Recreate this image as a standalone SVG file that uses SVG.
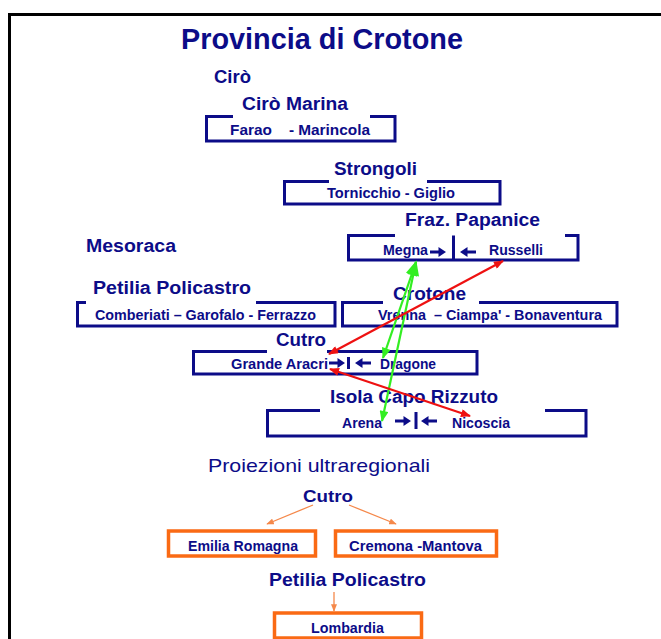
<svg xmlns="http://www.w3.org/2000/svg" width="661" height="639" viewBox="0 0 661 639">
<defs>
<style>
.t{font-family:"Liberation Sans",Arial,sans-serif;font-weight:bold;fill:#0c0c88}
.lab{font-size:18px}
.in{font-size:14px}
.box{fill:none;stroke:#0c0c88;stroke-width:3}
.obox{fill:none;stroke:#fa6a14;stroke-width:3.5}
.g{stroke:#33ee22;stroke-width:2.2;fill:none}
.r{stroke:#ee1111;stroke-width:2.2;fill:none}
.o{stroke:#f5884a;stroke-width:1.3;fill:none}
</style>
<marker id="mg" viewBox="0 0 10 8" refX="9" refY="4" markerWidth="12" markerHeight="9" markerUnits="userSpaceOnUse" orient="auto-start-reverse"><path d="M0,0 L10,4 L0,8 Z" fill="#33ee22"/></marker>
<marker id="mgb" viewBox="0 0 10 8" refX="9" refY="4" markerWidth="16" markerHeight="12" markerUnits="userSpaceOnUse" orient="auto-start-reverse"><path d="M0,0 L10,4 L0,8 Z" fill="#33ee22"/></marker>
<marker id="mr" viewBox="0 0 10 8" refX="9" refY="4" markerWidth="11" markerHeight="8" markerUnits="userSpaceOnUse" orient="auto-start-reverse"><path d="M0,0 L10,4 L0,8 Z" fill="#ee1111"/></marker>
<marker id="mo" viewBox="0 0 10 8" refX="9" refY="4" markerWidth="8" markerHeight="6" markerUnits="userSpaceOnUse" orient="auto"><path d="M0,0 L10,4 L0,8 Z" fill="#f5884a"/></marker>
<path id="ar" d="M-8,-1.6 H0.5 V-5 L8,0 L0.5,5 V1.6 H-8 Z" fill="#0c0c88"/>
</defs>

<path d="M9.5,639 V14.5 H661" fill="none" stroke="#000" stroke-width="3"/>

<text class="t" x="181" y="49" font-size="29" textLength="282" lengthAdjust="spacingAndGlyphs">Provincia di Crotone</text>

<g id="ciro"><text class="t lab" x="214" y="83" textLength="37" lengthAdjust="spacingAndGlyphs">Cirò</text></g>

<g id="ciro-marina">
<text class="t lab" x="242" y="110" textLength="106" lengthAdjust="spacingAndGlyphs">Cirò Marina</text>
<path class="box" d="M233,116.5 H206.5 V141 H395 V116.5 H370"/>
<text class="t in" x="230" y="135" textLength="140" lengthAdjust="spacingAndGlyphs" xml:space="preserve">Farao    - Marincola</text>
</g>

<g id="strongoli">
<text class="t lab" x="334" y="175" textLength="83" lengthAdjust="spacingAndGlyphs">Strongoli</text>
<path class="box" d="M329,181.5 H284.5 V204 H500 V181.5 H427"/>
<text class="t in" x="327" y="198" textLength="128" lengthAdjust="spacingAndGlyphs">Tornicchio - Giglio</text>
</g>

<g id="papanice">
<text class="t lab" x="405" y="226" textLength="135" lengthAdjust="spacingAndGlyphs">Fraz. Papanice</text>
<path class="box" d="M395,235.5 H348.5 V260 H578 V235.5 H565 M453.5,235.5 V260"/>
<text class="t in" x="383" y="255" textLength="45" lengthAdjust="spacingAndGlyphs">Megna</text>
<use href="#ar" transform="translate(438,252)"/>
<use href="#ar" transform="translate(468,252) scale(-1,1)"/>
<text class="t in" x="489" y="255" textLength="54" lengthAdjust="spacingAndGlyphs">Russelli</text>
</g>

<g id="mesoraca"><text class="t lab" x="86" y="252" textLength="90" lengthAdjust="spacingAndGlyphs">Mesoraca</text></g>

<g id="petilia">
<text class="t lab" x="93" y="294" textLength="158" lengthAdjust="spacingAndGlyphs">Petilia Policastro</text>
<path class="box" d="M86,302.5 H77.5 V326 H335 V302.5 H256"/>
<text class="t in" x="95" y="320" textLength="221" lengthAdjust="spacingAndGlyphs">Comberiati – Garofalo - Ferrazzo</text>
</g>

<g id="crotone">
<text class="t lab" x="393" y="300" textLength="73" lengthAdjust="spacingAndGlyphs">Crotone</text>
<path class="box" d="M383,302.5 H342.5 V326 H617 V302.5 H479"/>
<text class="t in" x="378" y="320" textLength="224" lengthAdjust="spacingAndGlyphs" xml:space="preserve">Vrenna  – Ciampa' - Bonaventura</text>
</g>

<g id="cutro">
<text class="t lab" x="276" y="346" textLength="50" lengthAdjust="spacingAndGlyphs">Cutro</text>
<path class="box" d="M267,351.5 H193.5 V374 H477 V351.5 H327"/>
<text class="t in" x="231" y="369" textLength="97" lengthAdjust="spacingAndGlyphs">Grande Aracri</text>
<use href="#ar" transform="translate(337,363)"/>
<rect x="347" y="357" width="3" height="12" fill="#0c0c88"/>
<use href="#ar" transform="translate(363,363) scale(-1,1)"/>
<text class="t in" x="380" y="369" textLength="56" lengthAdjust="spacingAndGlyphs">Dragone</text>
</g>

<g id="isola">
<text class="t lab" x="330" y="403" textLength="168" lengthAdjust="spacingAndGlyphs">Isola Capo Rizzuto</text>
<path class="box" d="M320,410.5 H267.5 V436 H586 V410.5 H545"/>
<text class="t in" x="342" y="428" textLength="40" lengthAdjust="spacingAndGlyphs">Arena</text>
<use href="#ar" transform="translate(403,421)"/>
<rect x="414.5" y="412" width="3" height="17" fill="#0c0c88"/>
<use href="#ar" transform="translate(429,421) scale(-1,1)"/>
<text class="t in" x="452" y="428" textLength="58" lengthAdjust="spacingAndGlyphs">Nicoscia</text>
</g>

<text x="208" y="472" font-family="Liberation Sans,Arial,sans-serif" font-size="19" fill="#0c0c88" textLength="222" lengthAdjust="spacingAndGlyphs">Proiezioni ultraregionali</text>

<g id="cutro-ext"><text class="t" font-size="17" x="303" y="502" textLength="50" lengthAdjust="spacingAndGlyphs">Cutro</text></g>

<g id="emilia">
<rect class="obox" x="168.5" y="531" width="147" height="25"/>
<text class="t in" x="188" y="551" textLength="110" lengthAdjust="spacingAndGlyphs">Emilia Romagna</text>
</g>

<g id="cremona">
<rect class="obox" x="335.5" y="531" width="161" height="25"/>
<text class="t in" x="349" y="551" textLength="133" lengthAdjust="spacingAndGlyphs">Cremona -Mantova</text>
</g>

<g id="petilia-ext"><text class="t lab" x="269" y="586" textLength="157" lengthAdjust="spacingAndGlyphs">Petilia Policastro</text></g>

<g id="lombardia">
<rect class="obox" x="274.5" y="613" width="147" height="25"/>
<text class="t in" x="311" y="633" textLength="73" lengthAdjust="spacingAndGlyphs">Lombardia</text>
</g>

<g id="connectors">
<line class="g" x1="416" y1="262" x2="383" y2="358" marker-start="url(#mgb)" marker-end="url(#mg)"/>
<line class="g" x1="416" y1="262" x2="382" y2="421" marker-start="url(#mgb)" marker-end="url(#mg)"/>
<line class="r" x1="503" y1="261" x2="329" y2="354" marker-start="url(#mr)" marker-end="url(#mr)"/>
<line class="r" x1="330" y1="369" x2="470" y2="416" marker-start="url(#mr)" marker-end="url(#mr)"/>
<line class="o" x1="313" y1="505" x2="267" y2="524" marker-end="url(#mo)"/>
<line class="o" x1="349" y1="505" x2="396" y2="524" marker-end="url(#mo)"/>
<line class="o" x1="334" y1="592" x2="334" y2="611" marker-end="url(#mo)"/>
</g>
</svg>
